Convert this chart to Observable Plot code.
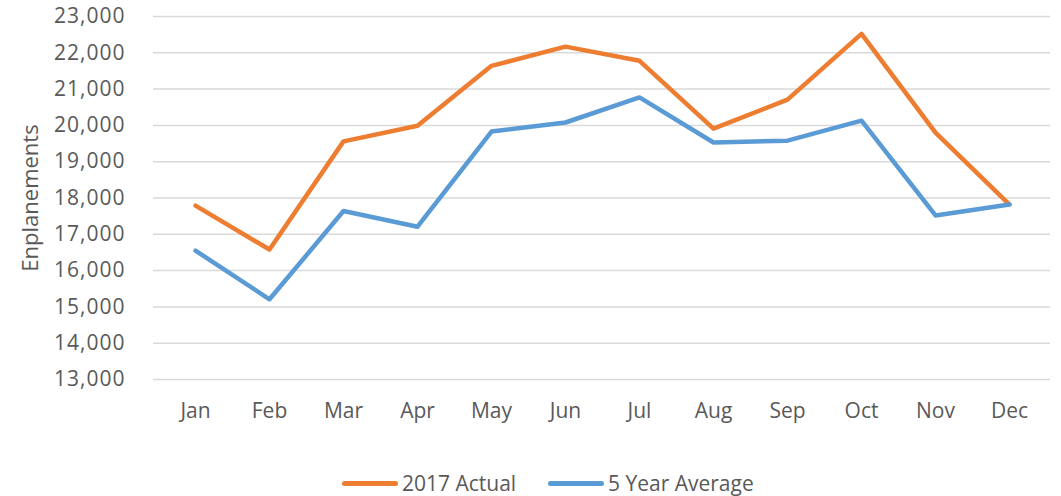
<!DOCTYPE html>
<html>
<head>
<meta charset="utf-8">
<script src="https://cdn.jsdelivr.net/npm/d3@7"></script>
<script src="https://cdn.jsdelivr.net/npm/@observablehq/plot@0.6"></script>
<style>
  html, body { margin: 0; padding: 0; background: #fff; }
  body { width: 1061px; height: 496px; overflow: hidden; font-family: "Open Sans", sans-serif; color: #595959; }
  #chart { height: 440px; }
  #chart g[aria-label="y-axis tick label"] text { letter-spacing: 1px; }
  #legend { position: absolute; left: 0; top: 469px; width: 1061px; height: 28px; font-size: 21px; }
  .item { display: flex; align-items: center; }
  .swatch { width: 56px; height: 5px; border-radius: 3px; margin-right: 4px; }
</style>
</head>
<body>
<div id="chart"></div>
<div id="legend"></div>
<script>
const months = ["Jan","Feb","Mar","Apr","May","Jun","Jul","Aug","Sep","Oct","Nov","Dec"];
const actual2017 = [17790,16580,19560,19990,21640,22170,21780,19910,20710,22520,19800,17820];
const fiveYearAvg = [16550,15210,17640,17210,19830,20080,20770,19530,19580,20130,17520,17820];
const seriesNames = ["2017 Actual","5 Year Average"];
const seriesColors = ["#ED7D31","#5B9BD5"];
const yTicks = [13000,14000,15000,16000,17000,18000,19000,20000,21000,22000,23000];

const data = [
  ...months.map((m,i) => ({month: m, value: actual2017[i], series: seriesNames[0]})),
  ...months.map((m,i) => ({month: m, value: fiveYearAvg[i], series: seriesNames[1]}))
];

const chart = Plot.plot({
  width: 1061,
  height: 440,
  marginLeft: 153,
  marginRight: 11,
  marginTop: 16,
  marginBottom: 61,
  style: {fontFamily: "'Open Sans', sans-serif", fontSize: "21px", color: "#595959", background: "#fff", overflow: "visible"},
  x: {type: "point", domain: months, padding: 0.5, label: null},
  y: {domain: [13000, 23000], label: null},
  color: {domain: seriesNames, range: seriesColors},
  marks: [
    Plot.gridY(yTicks, {stroke: "#d9d9d9", strokeOpacity: 1, strokeWidth: 1.5}),
    Plot.axisY(yTicks, {tickSize: 0, tickPadding: 28, tickFormat: d3.format(","), fontSize: 21, label: null}),
    Plot.axisY({tickSize: 0, ticks: [], label: "Enplanements", labelAnchor: "center", labelArrow: "none", labelOffset: 131, fontSize: 22}),
    Plot.axisX({tickSize: 0, tickPadding: 24, fontSize: 21, label: null}),
    Plot.line(data, {x: "month", y: "value", z: "series", stroke: "series", strokeWidth: 4.5,
      strokeLinecap: "round", strokeLinejoin: "round"})
  ]
});
document.getElementById("chart").appendChild(chart);

const legend = document.getElementById("legend");
const starts = [342, 548];
seriesNames.forEach((name, i) => {
  const item = document.createElement("div");
  item.className = "item";
  item.style.position = "absolute";
  item.style.left = starts[i] + "px";
  item.style.top = "0px";
  item.style.height = "28px";
  const sw = document.createElement("div");
  sw.className = "swatch";
  sw.style.background = seriesColors[i];
  const label = document.createElement("span");
  label.textContent = name;
  item.appendChild(sw);
  item.appendChild(label);
  legend.appendChild(item);
});
</script>
</body>
</html>
